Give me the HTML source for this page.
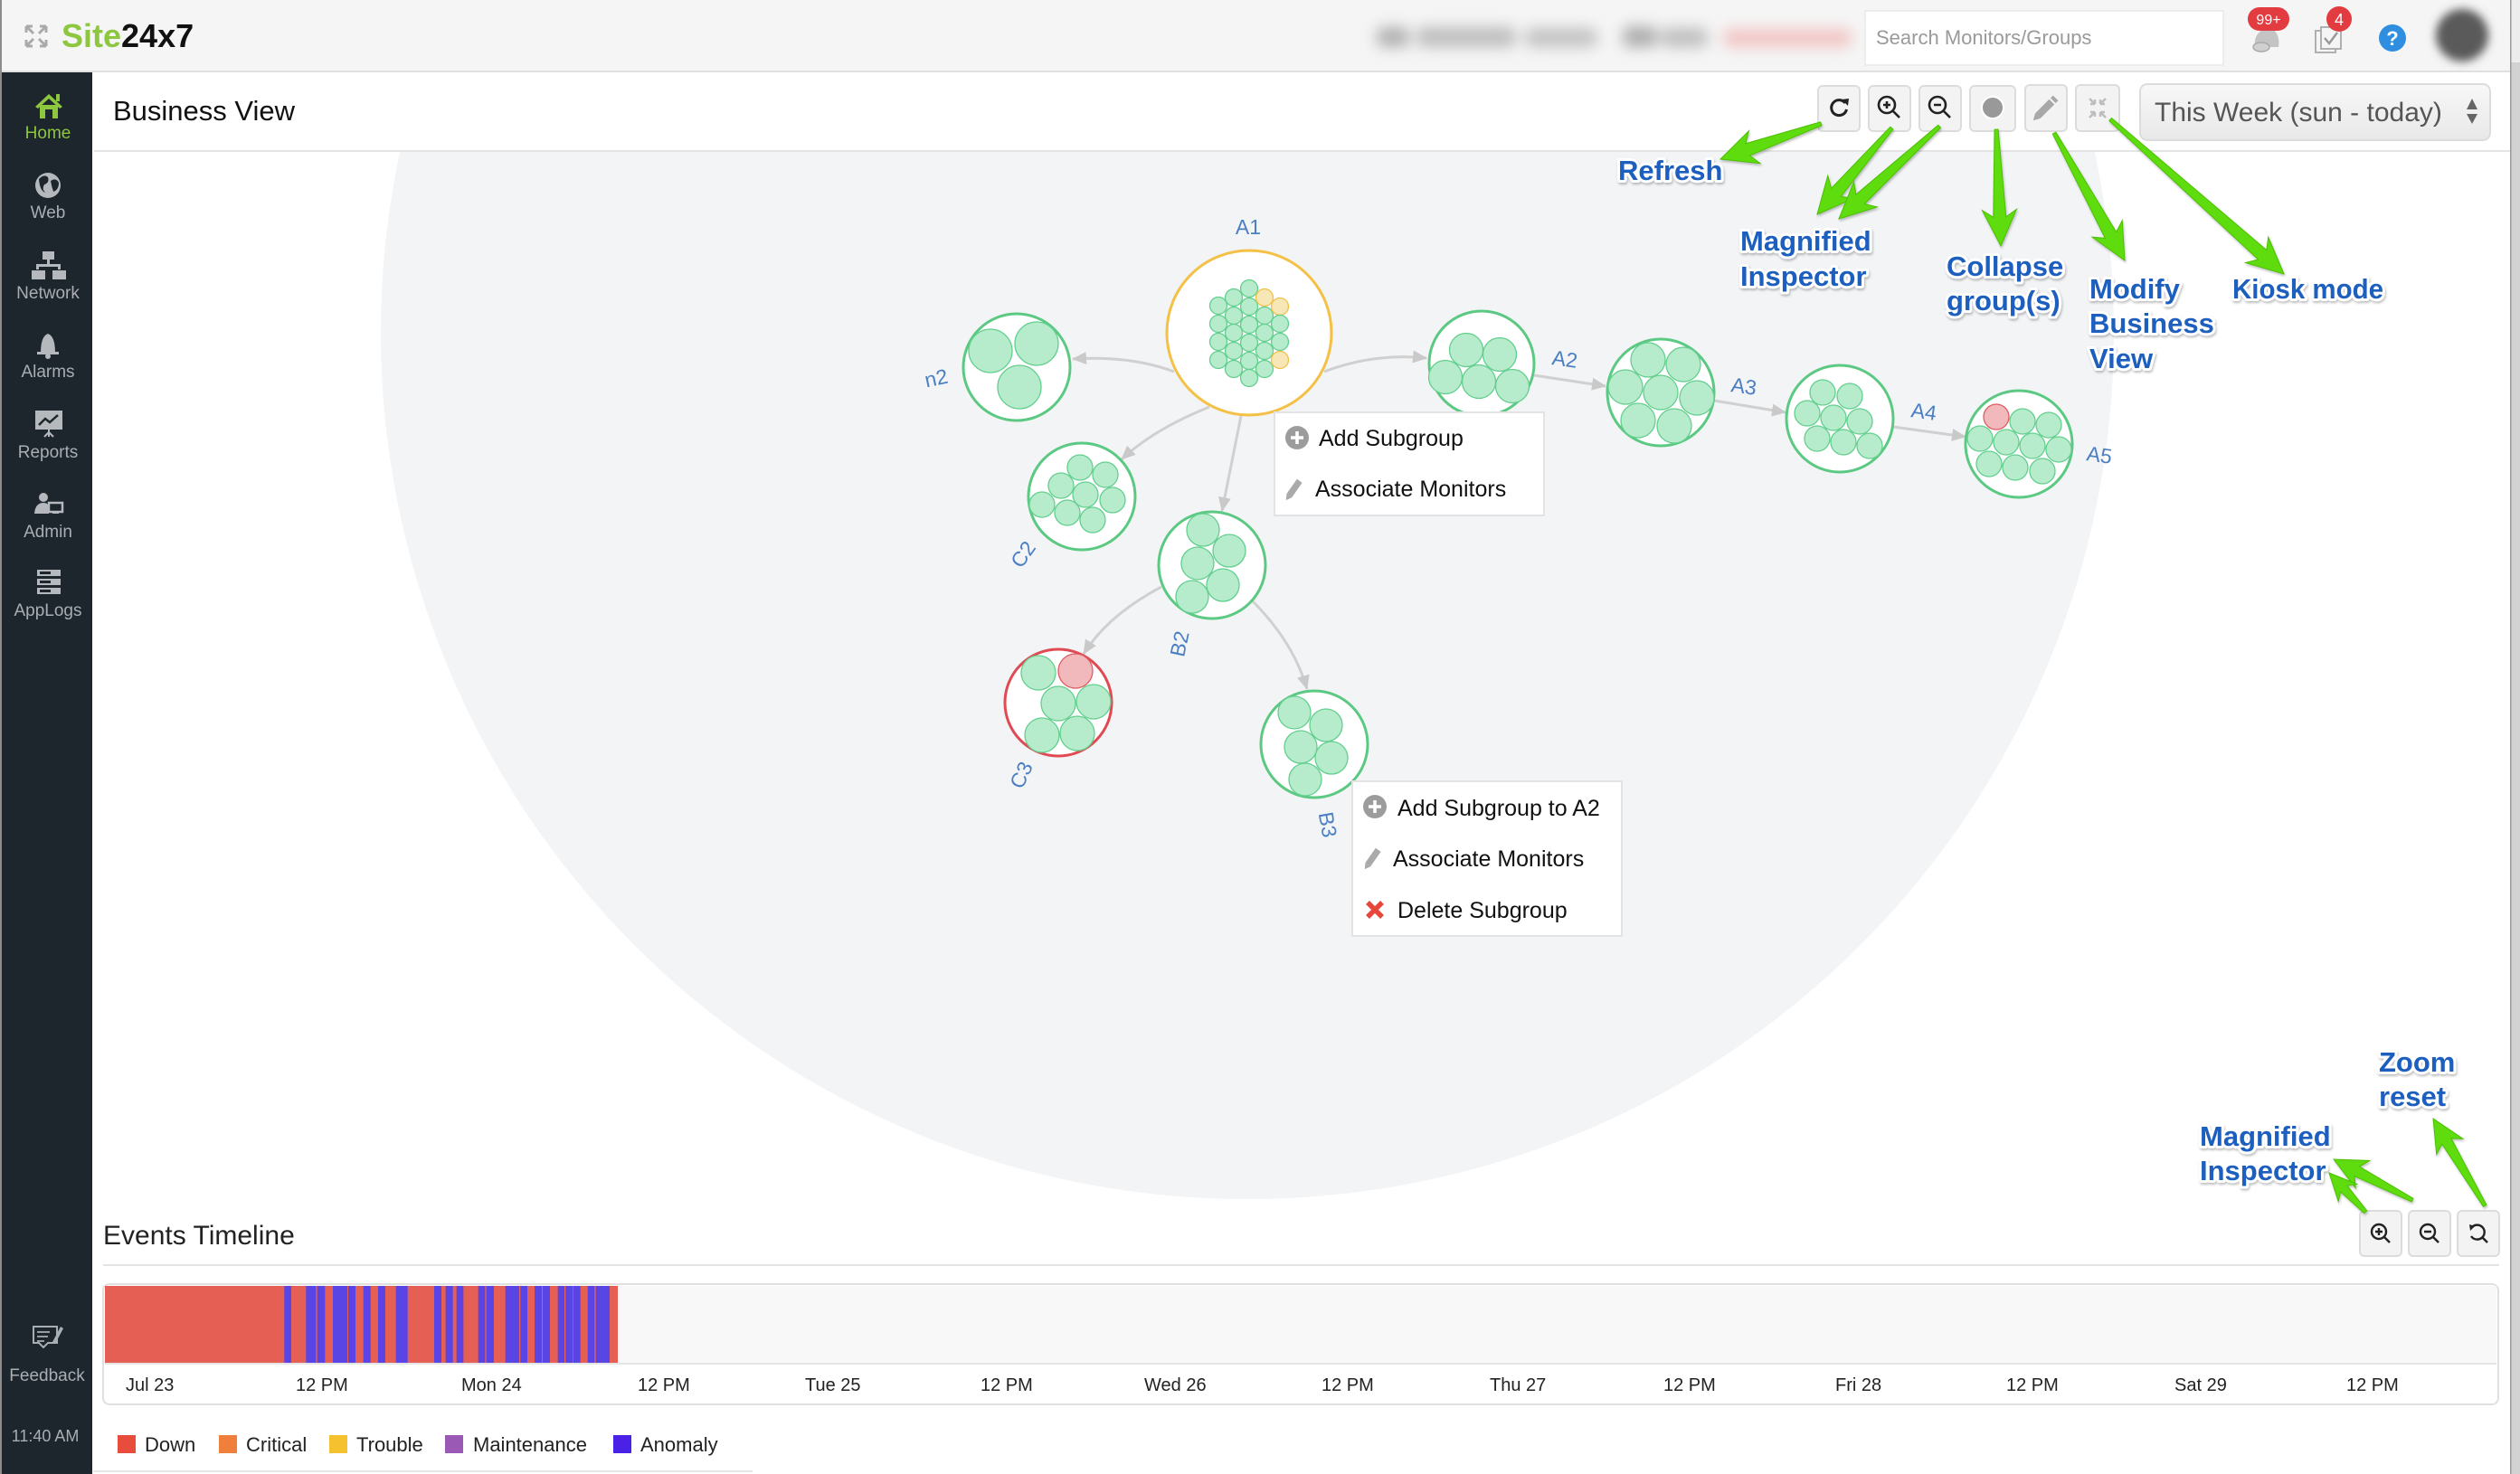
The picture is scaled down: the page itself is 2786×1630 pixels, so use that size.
<!DOCTYPE html>
<html><head><meta charset="utf-8"><style>
html,body{margin:0;padding:0;background:#fff;}
svg{display:block;}
text{font-family:"Liberation Sans",Arial,sans-serif;}
.ann{font-weight:bold;font-size:31px;fill:#1f5fbf;paint-order:stroke;stroke:#fff;stroke-width:6px;stroke-linejoin:round;}
.side{font-size:19px;fill:#a9aeb3;text-anchor:middle;}
.tl{font-size:20px;fill:#222;}
.lg{font-size:22px;fill:#222;}
.menu{font-size:25px;fill:#111;}
.nl{font-size:23px;fill:#4b7fc2;}
.g{fill:#b6ebcc;stroke:#63cf8e;stroke-width:1.3;}
.y{fill:#f7e6b6;stroke:#f2c04a;stroke-width:1.3;}
.r{fill:#f1b9bc;stroke:#e05a60;stroke-width:1.3;}
.node{fill:#fff;stroke:#5cc983;stroke-width:3;}
.edge{fill:none;stroke:#d0d0d0;stroke-width:3;marker-end:url(#ah);}
.btn{fill:#f3f3f3;stroke:#dcdcdc;stroke-width:2;}
.garrow{fill:#5edc0b;stroke:#4bbf05;stroke-width:1;}
</style></head><body>
<svg width="2786" height="1630" viewBox="0 0 2786 1630" xmlns="http://www.w3.org/2000/svg">
<defs>
 <filter id="bl" x="-20%" y="-150%" width="140%" height="400%"><feGaussianBlur stdDeviation="8"/></filter>
 <filter id="bl2" x="-50%" y="-50%" width="200%" height="200%"><feGaussianBlur stdDeviation="5"/></filter>
 <filter id="sh" x="-10%" y="-10%" width="120%" height="130%"><feDropShadow dx="1" dy="2" stdDeviation="1.2" flood-color="#000" flood-opacity="0.25"/></filter>
 <clipPath id="cv"><rect x="103" y="168" width="2672" height="1180"/></clipPath>
 <marker id="ah" viewBox="0 0 16 14" refX="15" refY="7" markerWidth="16" markerHeight="14" orient="auto" markerUnits="userSpaceOnUse"><path d="M0,0 L16,7 L0,14 z" fill="#c9c9c9"/></marker>
 <linearGradient id="dd" x1="0" y1="0" x2="0" y2="1"><stop offset="0" stop-color="#f8f8f8"/><stop offset="1" stop-color="#e8e8e8"/></linearGradient>
</defs>

<rect x="0" y="0" width="2786" height="1630" fill="#fff"/>
<rect x="2776" y="0" width="10" height="1630" fill="#d2d2d2"/>
<rect x="2776" y="0" width="10" height="69" fill="#ececec"/>
<rect x="2775" y="0" width="1.5" height="1630" fill="#9a9a9a"/>

<rect x="0" y="0" width="2775" height="78" fill="#f5f5f5"/>
<rect x="0" y="78" width="2775" height="2" fill="#e0e0e0"/>
<rect x="0" y="0" width="2" height="1630" fill="#8c8c8c"/>
<g stroke="#aaa" stroke-width="3" fill="none">
 <path d="M29,29 L37,37 M29,29 h7 M29,29 v7"/>
 <path d="M51,29 L43,37 M51,29 h-7 M51,29 v7"/>
 <path d="M29,51 L37,43 M29,51 h7 M29,51 v-7"/>
 <path d="M51,51 L43,43 M51,51 h-7 M51,51 v-7"/>
</g>
<text x="68" y="52" font-size="36" font-weight="bold"><tspan fill="#8dc63f">Site</tspan><tspan fill="#111">24x7</tspan></text>

<g filter="url(#bl)">
 <rect x="1522" y="30" width="36" height="22" rx="8" fill="#b0b0b0"/>
 <rect x="1566" y="30" width="110" height="22" rx="8" fill="#bdbdbd"/>
 <rect x="1686" y="31" width="80" height="21" rx="8" fill="#c2c2c2"/>
 <rect x="1794" y="29" width="38" height="23" rx="8" fill="#adadad"/>
 <rect x="1836" y="31" width="52" height="21" rx="8" fill="#bebebe"/>
 <rect x="1905" y="32" width="142" height="20" rx="8" fill="#f2c4c4"/>
</g>
<rect x="2062" y="12" width="396" height="60" fill="#fff" stroke="#ececec" stroke-width="2"/>
<text x="2074" y="49" font-size="22" fill="#9a9a9a">Search Monitors/Groups</text>
<path d="M2493,52 q-2,-14 10,-20 l10,0 q8,8 6,20 z" fill="#c4c4c4"/>
<ellipse cx="2500" cy="52" rx="9" ry="5" fill="#d0d0d0" stroke="#aaa" stroke-width="1.5"/>
<rect x="2485" y="8" width="46" height="26" rx="13" fill="#e23b40"/>
<text x="2508" y="27" font-size="16" fill="#fff" text-anchor="middle">99+</text>
<rect x="2560" y="34" width="22" height="24" fill="#f5f5f5" stroke="#b0b0b0" stroke-width="2"/>
<rect x="2566" y="30" width="22" height="24" fill="#f5f5f5" stroke="#b0b0b0" stroke-width="2"/>
<path d="M2570,42 l5,6 l9,-12" fill="none" stroke="#999" stroke-width="2.5"/>
<circle cx="2586" cy="21" r="14" fill="#e23b40"/>
<text x="2586" y="28" font-size="18" fill="#fff" text-anchor="middle">4</text>
<circle cx="2645" cy="42" r="15" fill="#2f8ee0"/>
<text x="2645" y="50" font-size="22" font-weight="bold" fill="#fff" text-anchor="middle">?</text>
<circle cx="2722" cy="39" r="29" fill="#5a5a5a" filter="url(#bl2)"/>

<rect x="2" y="80" width="100" height="1550" fill="#1d252d"/>
<g fill="#8dc63f">
 <polygon points="39,118 54,104 69,118 66,120 54,109 42,120"/>
 <rect x="62" y="104" width="4" height="8"/>
 <rect x="44" y="116" width="20" height="15"/>
</g>
<rect x="50" y="121" width="8" height="10" fill="#1d252d"/>
<text class="side" x="53" y="153" style="fill:#8dc63f">Home</text>
<circle cx="53" cy="205" r="14" fill="#b5b9bd"/>
<path d="M43,198 q6,-6 10,-2 q2,6 -4,8 q-3,5 1,9 q-6,-2 -7,-15 z M56,200 q6,-4 9,2 q0,8 -6,10 q-2,-6 -3,-12 z" fill="#1d252d"/>
<text class="side" x="53" y="241">Web</text>
<g fill="#b5b9bd">
 <rect x="47" y="278" width="13" height="9"/>
 <rect x="52" y="287" width="3" height="6"/>
 <rect x="40" y="292" width="27" height="3"/>
 <rect x="40" y="292" width="3" height="6"/><rect x="64" y="292" width="3" height="6"/>
 <rect x="35" y="299" width="15" height="10"/><rect x="58" y="299" width="15" height="10"/>
</g>
<text class="side" x="53" y="330">Network</text>
<path d="M45,390 q0,-18 8,-21 q8,3 8,21 z" fill="#b5b9bd"/>
<rect x="41" y="389" width="24" height="3" fill="#b5b9bd"/>
<circle cx="53" cy="394" r="3" fill="#b5b9bd"/>
<text class="side" x="53" y="417">Alarms</text>
<rect x="39" y="454" width="30" height="21" fill="#b5b9bd"/>
<path d="M43,470 l7,-7 l5,4 l9,-8" fill="none" stroke="#1d252d" stroke-width="2.5"/>
<path d="M54,475 v8 M54,478 l-5,5 M54,478 l5,5" stroke="#b5b9bd" stroke-width="2"/>
<text class="side" x="53" y="506">Reports</text>
<circle cx="48" cy="550" r="5" fill="#b5b9bd"/>
<path d="M38,568 q1,-12 10,-12 q5,0 6,4 v8 z" fill="#b5b9bd"/>
<rect x="54" y="556" width="15" height="10" fill="none" stroke="#b5b9bd" stroke-width="2.5"/>
<rect x="58" y="566" width="7" height="2" fill="#b5b9bd"/>
<text class="side" x="53" y="594">Admin</text>
<g fill="#b5b9bd"><rect x="41" y="630" width="26" height="7"/><rect x="41" y="640" width="26" height="7"/><rect x="41" y="650" width="26" height="7"/></g>
<g fill="#1d252d"><rect x="44" y="632" width="12" height="3"/><rect x="44" y="642" width="12" height="3"/><rect x="44" y="652" width="12" height="3"/></g>
<text class="side" x="53" y="681">AppLogs</text>
<path d="M37,1467 h26 v18 h-10 l-5,5 l-5,-5 h-6 z" fill="none" stroke="#a9aeb3" stroke-width="2"/>
<path d="M41,1473 h14 M41,1478 h12 M41,1483 h8" stroke="#a9aeb3" stroke-width="1.8"/>
<path d="M58,1484 l9,-17 l3,2 l-9,17 z" fill="#a9aeb3"/>
<text class="side" x="52" y="1527">Feedback</text>
<text class="side" x="50" y="1594" style="font-size:18px">11:40 AM</text>

<text x="125" y="133" font-size="31" fill="#111">Business View</text>
<rect x="104" y="166" width="2671" height="2" fill="#e4e4e4"/>

<rect class="btn" x="2010" y="95" width="46" height="50" rx="5"/>
<rect class="btn" x="2066" y="95" width="46" height="50" rx="5"/>
<rect class="btn" x="2122" y="95" width="46" height="50" rx="5"/>
<rect class="btn" x="2178" y="95" width="50" height="50" rx="5"/>
<rect class="btn" x="2239" y="94" width="46" height="51" rx="5"/>
<rect class="btn" x="2295" y="94" width="48" height="51" rx="5"/>
<path d="M2040,114 a8.5,8.5 0 1 0 1.5,7" fill="none" stroke="#222" stroke-width="3"/>
<polygon points="2036,110 2044,109 2043,117" fill="#222"/>
<g fill="none" stroke="#222" stroke-width="2.6">
 <circle cx="2086" cy="116" r="9"/><path d="M2093,123 l7,7 M2082,116 h8 M2086,112 v8"/>
 <circle cx="2142" cy="116" r="9"/><path d="M2149,123 l7,7 M2138,116 h8"/>
</g>
<circle cx="2203" cy="119" r="12" fill="#999" stroke="#fff" stroke-width="2"/>
<g transform="translate(2262,119) rotate(-45)"><rect x="-13" y="-4" width="22" height="8" fill="#a8a8a8"/><polygon points="-13,-4 -20,0 -13,4" fill="#a8a8a8"/><rect x="11" y="-4" width="4" height="8" fill="#a8a8a8"/></g>
<g stroke="#bdbdbd" stroke-width="2.5" fill="none">
 <path d="M2310,109 l6,6 M2316,115 h-5 M2316,115 v-5"/>
 <path d="M2328,109 l-6,6 M2322,115 h5 M2322,115 v-5"/>
 <path d="M2310,130 l6,-6 M2316,124 h-5 M2316,124 v5"/>
 <path d="M2328,130 l-6,-6 M2322,124 h5 M2322,124 v5"/>
</g>
<rect x="2366" y="93" width="387" height="62" rx="8" fill="url(#dd)" stroke="#dcdcdc" stroke-width="2"/>
<text x="2382" y="134" font-size="30" fill="#555">This Week (sun - today)</text>
<polygon points="2733,109 2739,121 2727,121" fill="#666"/>
<polygon points="2733,137 2739,126 2727,126" fill="#666"/>

<g clip-path="url(#cv)">
 <circle cx="1379" cy="368" r="958" fill="#f3f4f6"/>
</g>

<path class="edge" d="M1298,411 Q1250,393 1186,397"/>
<path class="edge" d="M1464,411 Q1520,390 1577,396"/>
<path class="edge" d="M1696,415 L1775,427"/>
<path class="edge" d="M1895,443 L1974,456"/>
<path class="edge" d="M2093,472 L2173,483"/>
<path class="edge" d="M1337,450 Q1275,475 1240,508"/>
<path class="edge" d="M1372,460 Q1362,510 1351,565"/>
<path class="edge" d="M1284,649 Q1225,680 1198,723"/>
<path class="edge" d="M1385,665 Q1430,710 1445,762"/>

<circle cx="1381" cy="368" r="91" fill="#fff" stroke="#f4c045" stroke-width="3"/>
<g>
 <circle class="g" cx="1347" cy="338" r="9.5"/><circle class="g" cx="1347" cy="358" r="9.5"/><circle class="g" cx="1347" cy="378" r="9.5"/><circle class="g" cx="1347" cy="398" r="9.5"/>
 <circle class="g" cx="1364" cy="329" r="9.5"/><circle class="g" cx="1364" cy="349" r="9.5"/><circle class="g" cx="1364" cy="368" r="9.5"/><circle class="g" cx="1364" cy="388" r="9.5"/><circle class="g" cx="1364" cy="408" r="9.5"/>
 <circle class="g" cx="1381" cy="319" r="9.5"/><circle class="g" cx="1381" cy="339" r="9.5"/><circle class="g" cx="1381" cy="359" r="9.5"/><circle class="g" cx="1381" cy="379" r="9.5"/><circle class="g" cx="1381" cy="399" r="9.5"/><circle class="g" cx="1381" cy="418" r="9.5"/>
 <circle class="y" cx="1398" cy="329" r="9.5"/><circle class="g" cx="1398" cy="349" r="9.5"/><circle class="g" cx="1398" cy="368" r="9.5"/><circle class="g" cx="1398" cy="388" r="9.5"/><circle class="g" cx="1398" cy="408" r="9.5"/>
 <circle class="y" cx="1415" cy="339" r="9.5"/><circle class="g" cx="1415" cy="358" r="9.5"/><circle class="g" cx="1415" cy="378" r="9.5"/><circle class="y" cx="1415" cy="398" r="9.5"/>
</g>
<text class="nl" x="1380" y="259" text-anchor="middle">A1</text>

<circle class="node" cx="1124" cy="406" r="59"/>
<circle class="g" cx="1095" cy="388" r="24"/><circle class="g" cx="1146" cy="380" r="24"/><circle class="g" cx="1127" cy="428" r="24"/>
<text class="nl" x="1035" y="426" text-anchor="middle" transform="rotate(-12 1035 418)">n2</text>

<circle class="node" cx="1638" cy="402" r="58"/>
<circle class="g" cx="1621" cy="387" r="18.5"/><circle class="g" cx="1658" cy="392" r="18.5"/><circle class="g" cx="1598" cy="417" r="18.5"/><circle class="g" cx="1635" cy="422" r="18.5"/><circle class="g" cx="1672" cy="427" r="18.5"/>
<text class="nl" x="1730" y="405" text-anchor="middle" transform="rotate(8 1730 397)">A2</text>

<circle class="node" cx="1836" cy="434" r="59"/>
<circle class="g" cx="1822" cy="398" r="19"/><circle class="g" cx="1861" cy="403" r="19"/><circle class="g" cx="1797" cy="428" r="19"/><circle class="g" cx="1836" cy="434" r="19"/><circle class="g" cx="1876" cy="440" r="19"/><circle class="g" cx="1811" cy="465" r="19"/><circle class="g" cx="1851" cy="471" r="19"/>
<text class="nl" x="1928" y="435" text-anchor="middle" transform="rotate(8 1928 427)">A3</text>

<circle class="node" cx="2034" cy="463" r="59"/>
<circle class="g" cx="2015" cy="434" r="14"/><circle class="g" cx="2045" cy="438" r="14"/><circle class="g" cx="1998" cy="457" r="14"/><circle class="g" cx="2027" cy="462" r="14"/><circle class="g" cx="2056" cy="466" r="14"/><circle class="g" cx="2009" cy="485" r="14"/><circle class="g" cx="2038" cy="489" r="14"/><circle class="g" cx="2067" cy="493" r="14"/>
<text class="nl" x="2127" y="463" text-anchor="middle" transform="rotate(8 2127 455)">A4</text>

<circle class="node" cx="2232" cy="491" r="59"/>
<circle class="r" cx="2207" cy="461" r="14"/><circle class="g" cx="2236" cy="466" r="14"/><circle class="g" cx="2265" cy="470" r="14"/><circle class="g" cx="2189" cy="485" r="14"/><circle class="g" cx="2218" cy="489" r="14"/><circle class="g" cx="2247" cy="493" r="14"/><circle class="g" cx="2276" cy="497" r="14"/><circle class="g" cx="2199" cy="513" r="14"/><circle class="g" cx="2228" cy="517" r="14"/><circle class="g" cx="2258" cy="521" r="14"/>
<text class="nl" x="2321" y="511" text-anchor="middle" transform="rotate(8 2321 503)">A5</text>

<circle class="node" cx="1196" cy="549" r="59"/>
<circle class="g" cx="1194" cy="517" r="14"/><circle class="g" cx="1222" cy="525" r="14"/><circle class="g" cx="1173" cy="537" r="14"/><circle class="g" cx="1200" cy="547" r="14"/><circle class="g" cx="1230" cy="553" r="14"/><circle class="g" cx="1152" cy="558" r="14"/><circle class="g" cx="1180" cy="567" r="14"/><circle class="g" cx="1208" cy="575" r="14"/>
<text class="nl" x="1131" y="621" text-anchor="middle" transform="rotate(-55 1131 613)">C2</text>

<circle class="node" cx="1340" cy="625" r="59"/>
<circle class="g" cx="1330" cy="586" r="18"/><circle class="g" cx="1359" cy="609" r="18"/><circle class="g" cx="1324" cy="623" r="18"/><circle class="g" cx="1352" cy="647" r="18"/><circle class="g" cx="1318" cy="660" r="18"/>
<text class="nl" x="1304" y="720" text-anchor="middle" transform="rotate(-78 1304 712)">B2</text>

<circle class="node" cx="1170" cy="777" r="59" style="stroke:#e04a52"/>
<circle class="g" cx="1148" cy="744" r="19"/><circle class="r" cx="1189" cy="742" r="19"/><circle class="g" cx="1170" cy="778" r="19"/><circle class="g" cx="1209" cy="776" r="19"/><circle class="g" cx="1152" cy="813" r="19"/><circle class="g" cx="1191" cy="811" r="19"/>
<text class="nl" x="1129" y="865" text-anchor="middle" transform="rotate(-65 1129 857)">C3</text>

<circle class="node" cx="1453" cy="823" r="59"/>
<circle class="g" cx="1431" cy="788" r="18"/><circle class="g" cx="1466" cy="802" r="18"/><circle class="g" cx="1438" cy="826" r="18"/><circle class="g" cx="1472" cy="838" r="18"/><circle class="g" cx="1443" cy="862" r="18"/>
<text class="nl" x="1468" y="920" text-anchor="middle" transform="rotate(80 1468 912)">B3</text>

<rect x="1409" y="456" width="298" height="114" fill="#fff" stroke="#e3e3e3" stroke-width="2"/>
<circle cx="1434" cy="484" r="13" fill="#9c9c9c"/>
<path d="M1434,477 v14 M1427,484 h14" stroke="#fff" stroke-width="3.5"/>
<text class="menu" x="1458" y="493">Add Subgroup</text>
<g transform="translate(1431,540) rotate(-55)"><rect x="-10" y="-3.5" width="20" height="7" fill="#aaa"/><polygon points="-10,-3.5 -16,0 -10,3.5" fill="#aaa"/></g>
<text class="menu" x="1454" y="549">Associate Monitors</text>

<rect x="1495" y="864" width="298" height="171" fill="#fff" stroke="#e3e3e3" stroke-width="2"/>
<circle cx="1520" cy="892" r="13" fill="#9c9c9c"/>
<path d="M1520,885 v14 M1513,892 h14" stroke="#fff" stroke-width="3.5"/>
<text class="menu" x="1545" y="902">Add Subgroup to A2</text>
<g transform="translate(1518,948) rotate(-55)"><rect x="-10" y="-3.5" width="20" height="7" fill="#aaa"/><polygon points="-10,-3.5 -16,0 -10,3.5" fill="#aaa"/></g>
<text class="menu" x="1540" y="958">Associate Monitors</text>
<path d="M1512,998 l16,16 M1528,998 l-16,16" stroke="#e8453c" stroke-width="5.5"/>
<text class="menu" x="1545" y="1015">Delete Subgroup</text>

<text x="114" y="1376" font-size="30" fill="#222">Events Timeline</text>
<rect x="114" y="1398" width="2649" height="2" fill="#e4e4e4"/>
<rect class="btn" x="2609" y="1339" width="46" height="50" rx="5"/>
<rect class="btn" x="2663" y="1339" width="46" height="50" rx="5"/>
<rect class="btn" x="2717" y="1339" width="46" height="50" rx="5"/>
<g fill="none" stroke="#222" stroke-width="2.4">
 <circle cx="2630" cy="1362" r="8"/><path d="M2636,1368 l6,6 M2626,1362 h8 M2630,1358 v8"/>
 <circle cx="2684" cy="1362" r="8"/><path d="M2690,1368 l6,6 M2680,1362 h8"/>
 <path d="M2733,1357 a8,8 0 1 1 -1,10"/><path d="M2744,1368 l6,6"/>
</g>
<polygon points="2730,1354 2736,1356 2731,1361" fill="#222"/>

<rect x="114" y="1420" width="2648" height="133" rx="7" fill="#fff" stroke="#e0e0e0" stroke-width="2"/>
<rect x="116" y="1422" width="2644" height="86" fill="#f8f8f8"/>
<rect x="116" y="1422" width="567" height="86" fill="#e55f55"/>
<g fill="#5845e4">
 <rect x="314.3" y="1422" width="7.7" height="86"/>
 <rect x="338.3" y="1422" width="11" height="86"/>
 <rect x="350.7" y="1422" width="8.6" height="86"/>
 <rect x="368" y="1422" width="16" height="86"/>
 <rect x="385" y="1422" width="8" height="86"/>
 <rect x="401.7" y="1422" width="8" height="86"/>
 <rect x="418" y="1422" width="8" height="86"/>
 <rect x="437.7" y="1422" width="13" height="86"/>
 <rect x="480" y="1422" width="8" height="86"/>
 <rect x="492.7" y="1422" width="8" height="86"/>
 <rect x="504.7" y="1422" width="7.6" height="86"/>
 <rect x="528.7" y="1422" width="7.6" height="86"/>
 <rect x="537.7" y="1422" width="8.3" height="86"/>
 <rect x="558.7" y="1422" width="15.3" height="86"/>
 <rect x="575.3" y="1422" width="7.7" height="86"/>
 <rect x="591" y="1422" width="8" height="86"/>
 <rect x="600" y="1422" width="8" height="86"/>
 <rect x="616.7" y="1422" width="7.3" height="86"/>
 <rect x="625.3" y="1422" width="7.7" height="86"/>
 <rect x="633.7" y="1422" width="8" height="86"/>
 <rect x="649.7" y="1422" width="7.6" height="86"/>
 <rect x="658.7" y="1422" width="15.3" height="86"/>
</g>
<rect x="116" y="1507" width="2644" height="2" fill="#e4e4e4"/>
<text class="tl" x="139" y="1538">Jul 23</text>
<text class="tl" x="327" y="1538">12 PM</text>
<text class="tl" x="510" y="1538">Mon 24</text>
<text class="tl" x="705" y="1538">12 PM</text>
<text class="tl" x="890" y="1538">Tue 25</text>
<text class="tl" x="1084" y="1538">12 PM</text>
<text class="tl" x="1265" y="1538">Wed 26</text>
<text class="tl" x="1461" y="1538">12 PM</text>
<text class="tl" x="1647" y="1538">Thu 27</text>
<text class="tl" x="1839" y="1538">12 PM</text>
<text class="tl" x="2029" y="1538">Fri 28</text>
<text class="tl" x="2218" y="1538">12 PM</text>
<text class="tl" x="2404" y="1538">Sat 29</text>
<text class="tl" x="2594" y="1538">12 PM</text>

<rect x="130" y="1587" width="20" height="20" fill="#e74c3c"/><text class="lg" x="160" y="1605">Down</text>
<rect x="242" y="1587" width="20" height="20" fill="#f07f3c"/><text class="lg" x="272" y="1605">Critical</text>
<rect x="364" y="1587" width="20" height="20" fill="#f5c12e"/><text class="lg" x="394" y="1605">Trouble</text>
<rect x="492" y="1587" width="20" height="20" fill="#9b59b6"/><text class="lg" x="523" y="1605">Maintenance</text>
<rect x="678" y="1587" width="20" height="20" fill="#4a22e6"/><text class="lg" x="708" y="1605">Anomaly</text>
<rect x="103" y="1626" width="729" height="2" fill="#e6e6e6"/>

<g filter="url(#sh)">
<polygon class="garrow" transform="translate(1902,176) rotate(160.6)" points="0,0 -40,-19 -32,-7 -118,-2 -118,2 -32,7 -40,19"/>
<polygon class="garrow" transform="translate(2009,237) rotate(130.8)" points="0,0 -40,-19 -32,-7 -126,-2 -126,2 -32,7 -40,19"/>
<polygon class="garrow" transform="translate(2033,242) rotate(137.4)" points="0,0 -40,-19 -32,-7 -151,-2 -151,2 -32,7 -40,19"/>
<polygon class="garrow" transform="translate(2212,272) rotate(87.8)" points="0,0 -40,-19 -32,-7 -129,-2 -129,2 -32,7 -40,19"/>
<polygon class="garrow" transform="translate(2349,288) rotate(61.05)" points="0,0 -40,-19 -32,-7 -161,-2 -161,2 -32,7 -40,19"/>
<polygon class="garrow" transform="translate(2525,303) rotate(41.7)" points="0,0 -40,-19 -32,-7 -257,-2 -257,2 -32,7 -40,19"/>
<polygon class="garrow" transform="translate(2690,1237) rotate(-120.7)" points="0,0 -36,-17 -29,-6 -112,-2 -112,2 -29,6 -36,17"/>
<polygon class="garrow" transform="translate(2580,1282) rotate(-152.6)" points="0,0 -36,-17 -29,-6 -98,-2 -98,2 -29,6 -36,17"/>
<polygon class="garrow" transform="translate(2575,1297) rotate(-132.9)" points="0,0 -30,-14 -24,-5 -59,-2 -59,2 -24,5 -30,14"/>
</g>

<g filter="url(#sh)">
<text class="ann" x="1789" y="199">Refresh</text>
<text class="ann" x="1924" y="277">Magnified</text>
<text class="ann" x="1924" y="316">Inspector</text>
<text class="ann" x="2152" y="305">Collapse</text>
<text class="ann" x="2152" y="343">group(s)</text>
<text class="ann" x="2310" y="330">Modify</text>
<text class="ann" x="2310" y="368">Business</text>
<text class="ann" x="2310" y="407">View</text>
<text class="ann" x="2468" y="330" textLength="167" lengthAdjust="spacingAndGlyphs">Kiosk mode</text>
<text class="ann" x="2630" y="1185">Zoom</text>
<text class="ann" x="2630" y="1223">reset</text>
<text class="ann" x="2432" y="1267">Magnified</text>
<text class="ann" x="2432" y="1305">Inspector</text>
</g>
</svg>
</body></html>
